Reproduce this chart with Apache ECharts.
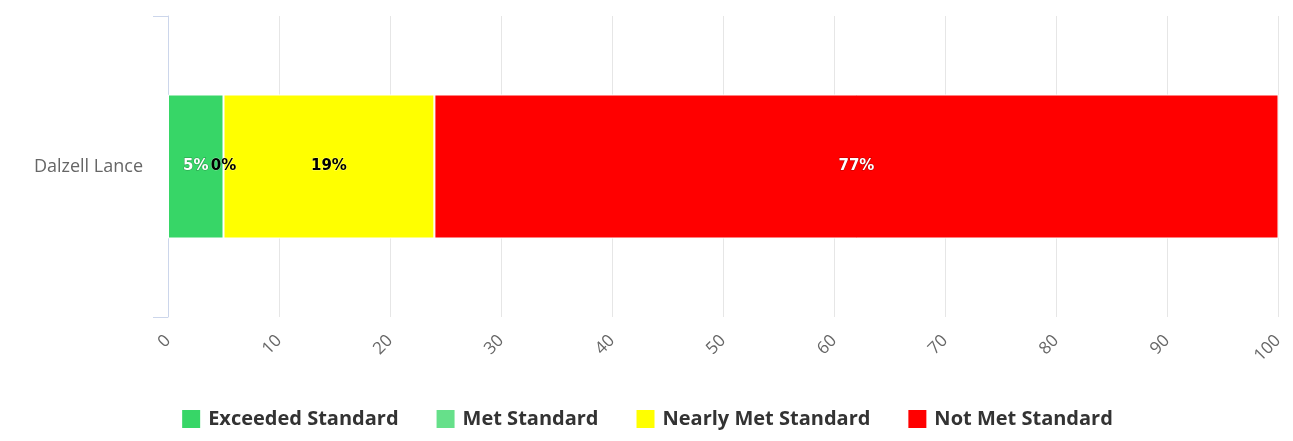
<!DOCTYPE html>
<html>
<head>
<meta charset="utf-8">
<script src="https://cdn.jsdelivr.net/npm/echarts@6/dist/echarts.min.js"></script>
<style>
  html, body { margin: 0; padding: 0; background: #ffffff; }
  #chart { width: 1293px; height: 441px; }
</style>
</head>
<body>
<div id="chart"></div>
<script>
// Students and their share of results in each performance band
const categories = ['Dalzell Lance'];
const seriesNames = ['Exceeded Standard', 'Met Standard', 'Nearly Met Standard', 'Not Met Standard'];
const exceeded = [5];
const met = [0];
const nearlyMet = [19];
const notMet = [77];
const xTicks = [0, 10, 20, 30, 40, 50, 60, 70, 80, 90, 100];

const colors = ['#37d667', '#66e08a', '#ffff00', '#ff0000'];
const labelColors = ['#ffffff', '#000000', '#000000', '#ffffff'];
const values = [exceeded, met, nearlyMet, notMet];

const chart = echarts.init(document.getElementById('chart'), null, { renderer: 'canvas' });

const series = seriesNames.map((name, i) => ({
  name: name,
  type: 'bar',
  stack: 'total',
  data: values[i],
  barWidth: 144,
  clip: true,
  itemStyle: { color: colors[i], borderColor: '#ffffff', borderWidth: 1 },
  label: {
    show: true,
    position: 'inside',
    formatter: p => p.value + '%',
    color: labelColors[i],
    fontFamily: 'DejaVu Sans',
    fontWeight: 'bold',
    fontSize: 15,
    textBorderColor: labelColors[i] === '#ffffff' ? 'rgba(0,0,0,0.3)' : 'rgba(255,255,255,0.4)',
    textBorderWidth: 1
  },
  emphasis: { disabled: true }
}));

chart.setOption({
  animation: false,
  backgroundColor: '#ffffff',
  grid: { left: 168, right: 15, top: 16, bottom: 124, containLabel: false },
  legend: {
    data: seriesNames,
    bottom: 6,
    left: 'center',
    itemWidth: 20,
    itemHeight: 20,
    itemGap: 36,
    icon: 'rect',
    textStyle: {
      fontFamily: '"Open Sans", sans-serif',
      fontWeight: 'bold',
      fontSize: 20,
      color: '#333333',
      padding: [0, 0, 0, 2]
    }
  },
  xAxis: {
    type: 'value',
    min: xTicks[0],
    max: xTicks[xTicks.length - 1],
    interval: xTicks[1] - xTicks[0],
    axisLine: { show: false },
    axisTick: { show: false },
    splitLine: { show: true, lineStyle: { color: '#e6e6e6', width: 1 } },
    axisLabel: {
      rotate: 45,
      margin: 21,
      color: '#666666',
      fontFamily: '"Open Sans", sans-serif',
      fontSize: 17
    }
  },
  yAxis: {
    type: 'category',
    data: categories,
    inverse: true,
    axisLine: { show: true, lineStyle: { color: '#ccd6eb', width: 1 } },
    axisTick: { show: true, length: 15, lineStyle: { color: '#ccd6eb', width: 1 } },
    axisLabel: {
      margin: 25,
      color: '#666666',
      fontFamily: '"Open Sans", sans-serif',
      fontSize: 18
    },
    splitLine: { show: false }
  },
  series: series
});
</script>
</body>
</html>
